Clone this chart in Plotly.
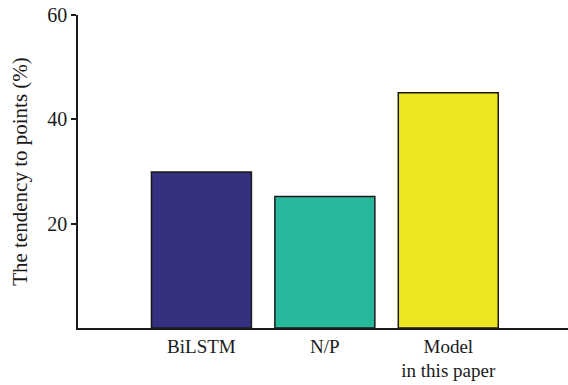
import plotly.graph_objects as go

categories = ["BiLSTM", "N/P", "Model<br>in this paper"]
values = [29.9, 25.2, 45.1]
colors = ["#35307f", "#27b99b", "#ede622"]
y_ticks = [20, 40, 60]

positions = list(range(len(categories)))

fig = go.Figure(go.Bar(
    x=positions, y=values, width=0.81,
    marker=dict(color=colors, line=dict(color="#1a1a1a", width=1.5)),
))

font_family = "Liberation Serif, DejaVu Serif, serif"
fig.update_layout(
    width=568, height=385,
    margin=dict(l=78, r=0, t=15, b=57),
    plot_bgcolor="white", paper_bgcolor="white",
    font=dict(family=font_family, color="#1a1a1a", size=19),
    showlegend=False,
)
fig.update_xaxes(
    range=[-1, 2.97], tickvals=positions, ticktext=categories,
    showline=True, linecolor="#1a1a1a", linewidth=1.5,
    ticks="", showgrid=False, zeroline=False, automargin=False,
    tickfont=dict(size=19),
)
fig.update_yaxes(
    range=[0, 60], tickvals=y_ticks,
    showline=True, linecolor="#1a1a1a", linewidth=1.5,
    ticks="outside", ticklen=5, tickwidth=1.5, tickcolor="#1a1a1a",
    showgrid=False, zeroline=False, automargin=False,
    ticklabeloverflow="allow",
    title=dict(text="The tendency to points (%)", font=dict(size=21), standoff=14),
    tickfont=dict(size=20),
)

fig.write_html(
    "out.html",
    config={"displayModeBar": False},
    post_script="document.body.style.margin='0';document.body.style.overflow='hidden';",
)
